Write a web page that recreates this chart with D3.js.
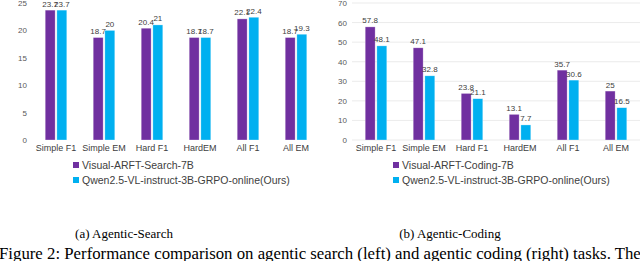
<!DOCTYPE html>
<html><head><meta charset="utf-8">
<script src="https://cdn.jsdelivr.net/npm/d3@7"></script>
<style>body{margin:0;background:#fff}svg{display:block}</style>
</head><body>
<script>
const categories = ["Simple F1","Simple EM","Hard F1","HardEM","All F1","All EM"];
const searchVisual = [23.7,18.7,20.4,18.7,22.1,18.7];
const searchOurs   = [23.7,20,21,18.7,22.4,19.3];
const codingVisual = [57.8,47.1,23.8,13.1,35.7,25];
const codingOurs   = [48.1,32.8,21.1,7.7,30.6,16.5];
const searchTicks = [0,5,10,15,20,25];
const codingTicks = [0,10,20,30,40,50,60,70];
const searchSeries = ["Visual-ARFT-Search-7B","Qwen2.5-VL-instruct-3B-GRPO-online(Ours)"];
const codingSeries = ["Visual-ARFT-Coding-7B","Qwen2.5-VL-instruct-3B-GRPO-online(Ours)"];
const colors = ["#7030A0","#00B0F0"];

const svg = d3.select("body").append("svg").attr("width",640).attr("height",261);

function panel(ox, vals, ticks, maxV, names, caption, capX, grid){
  const g = svg.append("g").attr("transform",`translate(${ox},0)`);
  const y = d3.scaleLinear().domain([0,maxV]).range([140,3]);
  const x = d3.scaleBand().domain(categories).range([32,320]).paddingInner(0.55).paddingOuter(0.275);
  const xi = d3.scaleBand().domain([0,1]).range([0,x.bandwidth()]).paddingInner(0.15);
  if(grid){
    g.append("g").selectAll("line").data(ticks).join("line")
      .attr("x1",32).attr("x2",320).attr("y1",d=>y(d)).attr("y2",d=>y(d))
      .attr("stroke","#e6e6e6").attr("stroke-width",0.8);
  }
  const ax = g.append("g").attr("transform","translate(27,0)")
    .call(d3.axisLeft(y).tickValues(ticks).tickSize(0).tickPadding(0));
  ax.select(".domain").remove();
  ax.selectAll("text").attr("font-family","Liberation Sans, Arial, sans-serif").attr("font-size",8).attr("fill","#595959");
  const xa = g.append("g").attr("transform","translate(0,145)")
    .call(d3.axisBottom(x).tickSize(0).tickPadding(0));
  xa.select(".domain").remove();
  xa.selectAll("text").attr("font-family","Liberation Sans, Arial, sans-serif").attr("font-size",9).attr("fill","#404040").attr("dy","0.71em");
  vals.forEach((arr,si)=>{
    g.append("g").selectAll("rect").data(arr).join("rect")
      .attr("x",(d,i)=>x(categories[i])+xi(si)).attr("width",xi.bandwidth())
      .attr("y",d=>y(d)).attr("height",d=>y(0)-y(d))
      .attr("fill",colors[si]).attr("stroke","#ffffff").attr("stroke-opacity",0.5).attr("stroke-width",0.6);
    g.append("g").selectAll("text").data(arr).join("text")
      .attr("x",(d,i)=>x(categories[i])+xi(si)+xi.bandwidth()/2).attr("y",d=>y(d)-3.5)
      .attr("text-anchor","middle").attr("font-family","Liberation Sans, Arial, sans-serif")
      .attr("font-size",8).attr("fill","#404040").text(d=>d);
  });
  const lg = g.append("g");
  names.forEach((n,i)=>{
    lg.append("rect").attr("x",73).attr("y",165+i*15-3).attr("width",6).attr("height",6).attr("fill",colors[i]);
    lg.append("text").attr("x",82).attr("y",165+i*15).attr("dy","0.35em")
      .attr("font-family","Liberation Sans, Arial, sans-serif").attr("font-size",10.5).attr("fill","#404040").text(n);
  });
  g.append("text").attr("x",capX).attr("y",238).attr("text-anchor","middle")
    .attr("font-family","Liberation Serif, Times New Roman, serif").attr("font-size",13).attr("fill","#000").text(caption);
}
panel(0,[searchVisual,searchOurs],searchTicks,25,searchSeries,"(a) Agentic-Search",124,false);
panel(320,[codingVisual,codingOurs],codingTicks,70,codingSeries,"(b) Agentic-Coding",130,true);
svg.append("text").attr("x",-1).attr("y",259)
  .attr("font-family","Liberation Serif, Times New Roman, serif").attr("font-size",16.8).attr("fill","#000")
  .text("Figure 2: Performance comparison on agentic search (left) and agentic coding (right) tasks. The");
</script>
</body></html>
